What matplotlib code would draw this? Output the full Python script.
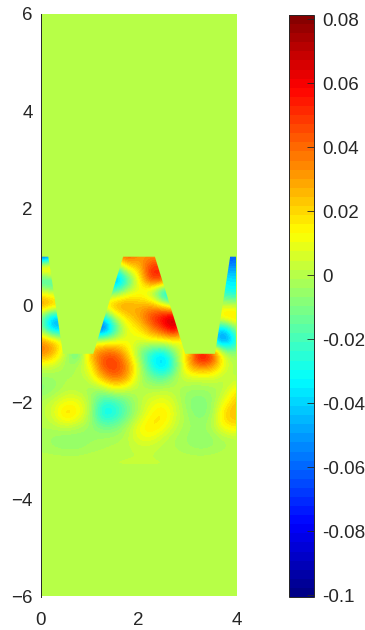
import numpy as np
import matplotlib
matplotlib.use("Agg")
import matplotlib.pyplot as plt
from matplotlib.colors import ListedColormap
from matplotlib.path import Path
from matplotlib.patches import PathPatch

plt.rcParams['font.family'] = ['Liberation Sans', 'DejaVu Sans']

x_vals = np.arange(0, 4.01, 0.25)
y_vals = np.arange(1, -3.51, -0.25)
r_p100 = [-.08,-.06,-.02,0,0,.01,.03,.05,.032,.03,.03,.02,0,-.02,-.04,-.07,-.06]
r_p075 = [.035,.04,.03,0,0,-.01,-.03,.015,.02,.058,.052,.03,0,-.02,-.03,-.05,-.05]
r_p050 = [-.03,-.03,-.02,0,0,-.03,-.06,-.03,.012,.052,.05,.02,0,-.01,-.02,-.035,-.035]
r_p025 = [.012,0,-.005,0,0,-.01,-.015,.005,.012,-.005,-.045,-.05,-.02,-.01,-.01,-.03,-.03]
r_p000 = [.04,.035,.03,0,.01,.02,.035,.035,.025,.03,.01,-.01,-.01,0,0,.003,0]
r_m025 = [-.01,-.05,-.04,0,-.03,-.04,.003,.02,.03,.05,.065,.08,.02,0,.01,.03,.025]
r_m050 = [-.005,-.055,-.04,0,-.05,-.08,-.03,.01,.015,.035,.05,.075,.02,0,-.03,-.05,-.003]
r_m075 = [.035,.03,.01,0,.005,.01,.01,.01,.005,.01,.01,.01,.005,0,-.04,-.065,-.025]
r_m100 = [.04,.03,0,-.025,.03,.042,.045,.025,-.01,-.03,-.04,-.005,.02,.075,.06,0,-.005]
r_m125 = [.005,.005,-.005,0,.01,.048,.052,.038,.005,-.03,-.045,-.02,.03,.04,.035,.008,0]
r_m150 = [-.005,-.006,0,-.002,.005,.028,.042,.034,0,-.012,-.018,0,.005,.004,.006,0,0]
r_m175 = [-.01,-.006,0,0,-.005,-.005,.008,.001,0,0,.002,0,-.005,-.005,-.004,0,.018]
r_m200 = [0,.004,.012,.012,0,-.025,-.025,-.012,0,.008,.012,.004,-.008,-.01,-.006,.012,.025]
r_m225 = [0,.006,.024,.016,0,-.035,-.03,-.015,0,.014,.02,.006,-.005,-.01,-.005,.024,.027]
r_m250 = [-.001,0,.004,0,-.005,-.012,-.012,-.002,.012,.02,.014,.002,-.003,-.005,0,.016,.018]
r_m275 = [-.002,-.006,-.008,-.008,-.005,-.003,-.002,0,.01,.01,.002,-.002,-.005,-.008,-.006,-.002,0]
r_m300 = [-.002,-.003,-.004,-.004,-.002,-.001,0,.0008,.001,.001,0,-.001,-.003,-.004,-.003,-.001,0]
r_m325 = [.0025]*17
r_m350 = [0]*17
field_rows = [r_p100,r_p075,r_p050,r_p025,r_p000,r_m025,r_m050,r_m075,r_m100,r_m125,
              r_m150,r_m175,r_m200,r_m225,r_m250,r_m275,r_m300,r_m325,r_m350]

outline_x = [0,0.15,0.45,1.07,1.68,2.33,2.95,3.56,3.87,4,4,0,0]
outline_y = [1,1,-1,-1,1,1,-1,-1,1,1,-6,-6,1]

vmin, vmax = -0.1006, 0.0813
x_ticks = [0,2,4]
y_ticks = [-6,-4,-2,0,2,4,6]
cb_ticks = [-0.1,-0.08,-0.06,-0.04,-0.02,0,0.02,0.04,0.06,0.08]
cb_labels = ['-0.1','-0.08','-0.06','-0.04','-0.02','0','0.02','0.04','0.06','0.08']

W, H = 365, 630
fig = plt.figure(figsize=(W/100, H/100), dpi=100)
def rect(l, t, r, b):
    return [l/W, 1-b/H, (r-l)/W, (b-t)/H]
t = (np.arange(64)+0.5)/64
jet_rgb = np.clip(1.5-np.abs(4*t[:,None]-np.array([3,2,1])), 0, 1)
cmap = ListedColormap(jet_rgb)
txt = '#262626'

ax = fig.add_axes(rect(41, 14, 236.5, 596.5))
ax.imshow(np.zeros((2,2)), extent=(0,4,-6,6), cmap=cmap, vmin=vmin, vmax=vmax,
          aspect='auto', zorder=1)
dx, dy = 0.125, 0.125
im = ax.imshow(np.array(field_rows), extent=(x_vals[0]-dx, x_vals[-1]+dx, y_vals[-1]-dy, y_vals[0]+dy),
               cmap=cmap, vmin=vmin, vmax=vmax, aspect='auto', interpolation='bicubic', zorder=2)
clip = PathPatch(Path(np.column_stack([outline_x, outline_y])), transform=ax.transData, fc='none', ec='none')
ax.add_patch(clip)
im.set_clip_path(clip)
ax.set_xlim(0,4); ax.set_ylim(-6,6)
ax.set_xticks(x_ticks); ax.set_yticks(y_ticks)
ax.tick_params(length=0, labelsize=13.5, colors=txt, pad=6)
ax.tick_params(axis='x', pad=11)
for s in ['top','right','bottom']:
    ax.spines[s].set_visible(False)
ax.spines['left'].set_linewidth(0.7); ax.spines['left'].set_color(txt)

cax = fig.add_axes(rect(289, 15, 313.5, 597))
cb = fig.colorbar(im, cax=cax)
cb.set_ticks(cb_ticks, labels=cb_labels)
cb.ax.tick_params(direction='in', length=5, width=0.6, labelsize=13.5, colors=txt, pad=6)
cb.outline.set_linewidth(0.7); cb.outline.set_edgecolor(txt)
fig.savefig('out.png', dpi=100)
